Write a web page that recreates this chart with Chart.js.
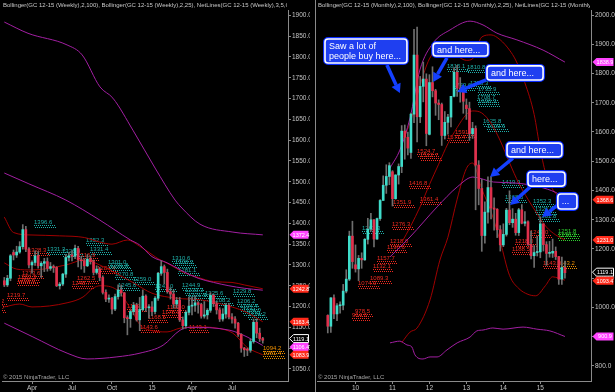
<!DOCTYPE html>
<html>
<head>
<meta charset="utf-8">
<script src="https://cdn.jsdelivr.net/npm/chart.js@4.4.0/dist/chart.umd.min.js"></script>
<style>
  html, body { margin: 0; padding: 0; background: #000; }
  #wrap { position: relative; width: 615px; height: 392px; background: #000; overflow: hidden; }
  #left { position: absolute; left: 0; top: 0; }
  #right { position: absolute; left: 310px; top: 0; }
</style>
</head>
<body>
<div id="wrap">
  <canvas id="left" width="310" height="392"></canvas>
  <canvas id="right" width="305" height="392"></canvas>
</div>
<script>
// ---- weekly GC 12-15, bar index 0 = week ending 2 Jan 2015 ----
const weekFirst = -48;
const weekOpen  = [1262,1252,1268,1330,1324,1331,1344,1385,1338,1300,1306,1322,1298,1304,1308,1292,1296,1294,1250,1254,1278,1318,1324,1321,1340,1312,1310,1298,1314,1308,1282,1290,1270,1234,1218,1220,1194,1224,1240,1233,1173,1171,1188,1203,1168,1193,1225,1197,1199,1188,1220,1280,1296,1282,1236,1230,1206,1215,1168,1154,1186,1201,1203,1209,1205,1177,1180,1191,1227,1207,1192,1170,1182,1203,1175,1170,1160,1133,1100,1096,1095,1116,1162,1136,1123];
const weekHigh  = [1270,1275,1325,1336,1345,1356,1397,1393,1342,1310,1334,1332,1308,1316,1317,1306,1300,1296,1258,1280,1325,1330,1334,1348,1345,1320,1315,1325,1322,1312,1298,1294,1274,1240,1228,1222,1230,1252,1252,1234,1178,1192,1210,1208,1222,1240,1228,1205,1212,1224,1282,1310,1300,1290,1245,1240,1222,1222,1175,1190,1222,1223,1225,1212,1208,1212,1195,1233,1230,1212,1197,1195,1207,1208,1183,1176,1162,1135,1102,1100,1122,1170,1170,1148,1126];
const weekLow   = [1248,1248,1262,1312,1318,1328,1338,1332,1293,1280,1299,1292,1270,1284,1285,1287,1282,1248,1242,1250,1270,1310,1310,1315,1295,1290,1282,1296,1302,1276,1278,1262,1230,1212,1210,1182,1190,1218,1225,1161,1132,1150,1180,1165,1142,1190,1188,1172,1178,1182,1215,1275,1255,1232,1218,1196,1196,1164,1146,1148,1180,1180,1188,1184,1172,1172,1170,1186,1200,1182,1164,1165,1172,1170,1160,1148,1128,1090,1080,1082,1090,1112,1125,1116,1112];
const weekClose = [1252,1268,1322,1324,1331,1344,1385,1338,1300,1306,1322,1298,1304,1308,1292,1296,1294,1250,1254,1278,1318,1322,1321,1340,1312,1310,1298,1314,1308,1282,1290,1270,1234,1218,1220,1194,1224,1240,1233,1173,1171,1188,1203,1168,1193,1225,1197,1199,1188,1220,1280,1296,1282,1236,1230,1206,1215,1168,1154,1186,1201,1203,1209,1205,1177,1180,1191,1227,1207,1192,1170,1182,1203,1175,1170,1160,1133,1100,1096,1095,1116,1162,1136,1123,1119];
const weekTickPos = [-39, -26, -13, 0, 13, 26];
const weekTickLabels = ['Apr', 'Jul', 'Oct', '15', 'Apr', 'Jul'];
const weekYTicks = [1050,1100,1150,1200,1250,1300,1350,1400,1450,1500,1550,1600,1650,1700,1750,1800,1850,1900];

// weekly Bollinger(2,100) and Bollinger(2,25)
const wkUp100Pos  = [-48,-40.3,-27.6,-22.7,-16.9,-12.7,-6.2,1,7.5,9.7,15.6,26.3,36];
const wkUp100     = [1884,1857,1829,1805,1728,1701,1624,1533,1456,1437,1398,1379,1372.4];
const wkMid100Pos = [-48,-40,-28,-17,-7,-4,0,5,10,15,20,25,30,36];
const wkMid100    = [1521,1495,1456,1408,1360,1348,1320,1305,1285,1268,1258,1250,1244,1239.4];
const wkLo100Pos  = [-48,-38.7,-27.6,-21.1,-11.4,-3.9,3.6,9.1,12.3,25.3,30.9,36];
const wkLo100     = [1160,1127,1088,1074,1079,1088,1107,1143,1150,1143,1127,1106.4];
const wkUp25Pos   = [-48,-45,-39,-30,-22,-17,-13,-8,-4,0,2,6,10,15,20,26,30,36];
const wkUp25      = [1415,1378,1372,1370,1366,1355,1350,1360,1345,1325,1315,1300,1283,1270,1260,1258,1252,1242.8];
const wkMid25Pos  = [-48,-44,-39,-28,-22,-17,-13,-6,0,8,16,26,31,36];
const wkMid25     = [1305,1290,1288,1300,1312,1300,1285,1257,1232,1220,1216,1199,1185,1163.4];
const wkLo25Pos   = [-48,-43,-39,-27.6,-22.4,-19.2,-16.9,-11.4,-6.2,-3.9,-0.6,4.9,9.1,15.6,21.1,26.3,30.9,36];
const wkLo25      = [1199,1206,1199,1209,1223,1244,1250,1240,1185,1156,1143,1139,1148,1151,1148,1136,1102,1083.9];

// weekly net line labels: bar position, price, colour key
const wkNetPos = [-38.4,-40.3,-34.1,-42.2,-43.5,-43.9,-47.1,-21.4,-20.1,-24.4,-29.3,-24.4,-26,-17.9,-14.3,-13.6,-12,-11,-6.2,-8.1,-3.9,6.5,7.5,8.5,1,4.9,-1.3,3.3,9.7,10.7,11.7,17.2,19.5,26.3,27.6,28.6,29.6,31.2,12,36.1,36.1,-54,-54];
const wkNetVal = [1396.6,1328.3,1331.3,1273.6,1263.3,1255.5,1219.7,1352.3,1331.4,1316.9,1326.9,1262.5,1248.7,1284.4,1301.0,1291.8,1270.8,1245.0,1259.0,1193.1,1143.6,1310.6,1300.2,1281.1,1241.0,1192.0,1168.5,1178.9,1244.9,1233.3,1221.5,1225.6,1208.2,1229.8,1206.2,1194.4,1184.0,1174.2,1143.1,1094.2,1081.4,1206.2,1192.0];
const wkNetCol = ['t','r','t','r','r','r','r','t','t','r','t','r','r','r','t','t','t','t','t','r','r','t','t','t','t','r','r','r','t','t','t','t','t','t','t','t','t','t','r','o','o','r','r'];

const wkTagVal = [1372.4, 1242.8, 1163.4, 1119.1, 1106.4, 1083.9];
const wkTagCol = ['m', 'r', 'r', 'k', 'm', 'r'];

// ---- monthly GC 12-15, bar index 0 = Jan 2010 ----
const monthFirst = -9;
const monthOpen  = [973,936,1033,978,1006,1008,1056,1097,1244, 1146,1132,1168,1163,1233,1268,1300,1234,1304,1366,1418,1448, 1464,1372,1453,1482,1603,1582,1530,1661,1863,1652,1756,1781, 1592,1769,1741,1699,1694,1588,1633,1651,1722,1804,1750,1745, 1692,1680,1594,1612,1487,1407,1246,1326,1410,1340,1336,1266, 1214,1250,1333,1290,1302,1256,1334,1288,1293,1216,1177,1188, 1190,1286,1215,1185,1186,1192,1174,1097,1137];
const monthHigh  = [975,1034,1043,1013,1019,1079,1129,1261,1295, 1214,1178,1187,1236,1305,1322,1301,1306,1369,1450,1488,1495, 1468,1454,1491,1622,1624,1600,1665,1951,1959,1790,1839,1799, 1796,1823,1746,1710,1699,1670,1660,1722,1820,1828,1786,1754, 1713,1702,1633,1621,1502,1438,1361,1447,1448,1375,1338,1280, 1286,1339,1399,1338,1322,1339,1352,1328,1296,1261,1212,1244, 1310,1286,1225,1226,1234,1207,1175,1172,1159];
const monthLow   = [913,915,962,955,981,992,1050,1092,1134, 1121,1092,1134,1161,1217,1261,1207,1233,1298,1366,1390,1420, 1347,1370,1422,1461,1507,1522,1510,1632,1566,1632,1703,1553, 1590,1720,1657,1642,1554,1576,1593,1617,1720,1722,1702,1664, 1643,1571,1578,1334,1351,1192,1220,1288,1303,1264,1239,1193, 1208,1244,1283,1274,1247,1246,1286,1279,1212,1166,1137,1176, 1170,1193,1144,1172,1171,1164,1079,1079,1100];
const monthClose = [936,1033,978,1006,1008,1056,1097,1244,1157, 1132,1168,1163,1233,1268,1300,1234,1304,1366,1418,1448,1485, 1372,1453,1482,1603,1582,1545,1661,1863,1652,1756,1781,1595, 1769,1741,1699,1694,1588,1633,1651,1722,1804,1750,1745,1705, 1680,1594,1612,1487,1407,1246,1326,1410,1340,1336,1266,1214, 1250,1333,1290,1302,1256,1334,1288,1293,1216,1177,1188,1190, 1286,1215,1185,1186,1192,1174,1097,1137,1119];
const monthTickPos = [0, 12, 24, 36, 48, 60];
const monthTickLabels = ['10', '11', '12', '13', '14', '15'];
const monthYTicks = [800,900,1000,1100,1200,1300,1400,1500,1600,1700,1800,1900,2000];

const moUp100Pos  = [11.2,14.4,17.7,20.9,25.2,30.7,37.2,41.4,45.9,52.4,60.9,68];
const moUp100     = [1477,1538,1648,1812,1904,1949,1979,1966,1938,1915,1880,1838.9];
const moMid100Pos = [11.2,17.7,26.5,33,38.1,44.8,51.3,60.9,66.4,68];
const moMid100    = [1173,1241,1344,1412,1446,1429,1426,1409,1385,1369.9];
const moLo100Pos  = [11.2,14.4,16.7,18.3,19.3,21.9,24.2,26.5,29.7,33,37.2,39.4,41.4,44.6,47.9,54.4,58.9,63.1,68];
const moLo100     = [879,885,872,865,838,824,831,831,855,879,899,920,923,930,926,933,926,920,900.9];
const moUp25Pos   = [15,18,21,24,27,30,33,36,38,41,44,47,50,52,55,58,60,62,65,68];
const moUp25      = [1564,1640,1760,1850,1880,1880,1860,1845,1850,1925,1932,1915,1880,1846,1768,1660,1540,1450,1390,1368.6];
const moMid25Pos  = [15,18,21,24,27,30,33,36,38,41,44,47,50,53,56,59,62,65,68];
const moMid25     = [1222,1280,1345,1420,1490,1560,1615,1660,1672,1665,1630,1570,1495,1425,1370,1320,1275,1248,1231];
const moLo25Pos   = [15,17.7,20,24.2,27.4,30,33,36,38,41,44,47,50,53,56,58.5,61.7,64,66,68];
const moLo25      = [880,916,930,1026,1162,1240,1370,1475,1494,1405,1328,1225,1110,1065,1045,1040,1075,1105,1100,1093.4];

const moNetPos = [29.7,36.2,37.2,31.7,39.8,39.4,39.8,41.4,42.7,32.3,29.7,20.0,20.9,17.4,20.9,12.2,11.9,11.2,10.2,7.0,5.7,4.7,0.8,-0.2,-1.1,47.6,48.5,57.6,58.3,59.3,56.7,51.8,50.8,60.9,65.4,65.7,65.7,2.1];
const moNetVal = [1815.1,1810.8,1758.3,1749.6,1735.9,1708.7,1696.3,1625.8,1609.6,1591.4,1571.4,1524.7,1512.7,1416.8,1361.4,1351.9,1276.3,1218.0,1196.6,1157.7,1132.1,1089.3,1074.9,978.5,964.6,1419.9,1368.5,1352.3,1326.3,1301.8,1247.0,1218.0,1188.5,1143.0,1143.2,1251.8,1236.2,1262.3];
const moNetCol = ['t','t','t','t','t','t','t','t','t','r','r','r','r','r','r','r','r','r','r','r','r','r','r','r','r','t','t','t','t','t','r','r','r','r','o','g','g','t'];

const moTagVal = [1838.9, 1368.6, 1231.0, 1119.1, 1093.4, 900.9];
const moTagCol = ['m', 'r', 'r', 'k', 'r', 'm'];

// callouts on the monthly chart (bar positions / prices)
const noteText   = [['Saw a lot of', 'people buy here...'], ['and here...'], ['and here...'], ['and here...'], ['here...'], ['...']];
const noteLeft   = [-9.9, 25.2, 42.7, 49.2, 56.0, 65.7];
const noteRight  = [16.7, 43.0, 60.9, 67.0, 68.0, 71.9];
const noteTop    = [1918, 1904, 1826, 1562, 1463, 1388];
const noteBottom = [1836, 1860, 1778, 1515, 1415, 1337];
const arrowFromPos = [10.2, 29.7, 42.4, 51.1, 56.7, 66.1];
const arrowFromVal = [1829, 1853, 1778, 1511, 1412, 1354];
const arrowToPos   = [14.4, 25.2, 33.0, 43.7, 50.2, 60.6];
const arrowToVal   = [1733, 1771, 1737, 1446, 1350, 1309];

const FONT = '"Liberation Sans", Arial, sans-serif';
Chart.defaults.font.family = FONT;
const netColors = { t: '#1fb0aa', r: '#f02a20', o: '#f09000', g: '#2fd22f' };
const tagColors = { m: '#ff44ff', r: '#ff2a1a', k: '#000000' };
const PURPLE = '#a21fa2', DARKRED = '#a00000';

function candleSets(first, open, high, low, close) {
  return [
    { type: 'bar', data: low.map((l, i) => ({ x: first + i, y: [l, high[i]] })),
      backgroundColor: '#6e6e6e', barThickness: 1, grouped: false, order: 1 },
    { type: 'bar', data: open.map((o, i) => ({ x: first + i, y: [o, close[i]] })),
      backgroundColor: open.map((o, i) => close[i] >= o ? '#3fdcca' : '#e0304c'),
      barThickness: 2, minBarLength: 1, grouped: false, order: 0 }
  ];
}

function band(pos, val, color) {
  return { type: 'line', data: pos.map((p, i) => ({ x: p, y: val[i] })), borderColor: color,
           borderWidth: 1, pointRadius: 0, cubicInterpolationMode: 'monotone', fill: false, order: 2 };
}

// spread overlapping axis tags apart, keeping each cluster centred on its values
function spreadTags(tags, gap) {
  tags.sort((p, q) => p.y0 - q.y0);
  let start = 0;
  for (let i = 0; i <= tags.length; i++) {
    if (i === tags.length || (i > start && tags[i].y0 - tags[i - 1].y0 >= gap)) {
      const n = i - start;
      const mid = tags.slice(start, i).reduce((s, t) => s + t.y0, 0) / n;
      for (let k = 0; k < n; k++) tags[start + k].y = mid + (k - (n - 1) / 2) * gap;
      start = i;
    }
  }
  return tags;
}

const decor = {
  id: 'decor',
  beforeDatasetsDraw(chart, args, o) {
    const { ctx, chartArea: a } = chart, x = chart.scales.x, y = chart.scales.y;
    ctx.save();
    ctx.beginPath(); ctx.rect(a.left, a.top, a.width, a.height); ctx.clip();
    ctx.font = '6px ' + FONT;
    ctx.textAlign = 'left'; ctx.textBaseline = 'alphabetic';
    o.netPos.forEach((p, i) => {
      const v = o.netVal[i], px = Math.round(x.getPixelForValue(p)), py = Math.round(y.getPixelForValue(v));
      const s = v.toFixed(1), w = ctx.measureText(s).width;
      ctx.fillStyle = netColors[o.netCol[i]];
      ctx.fillText(s, px, py - 1.5);
      for (let k = 0; k < w + 2; k += 2) { ctx.fillRect(px + k, py, 1, 1); ctx.fillRect(px + k + 1, py + 2, 1, 1); }
    });
    ctx.restore();
  },
  afterDatasetsDraw(chart, args, o) {
    const n = o.notes;
    if (!n) return;
    const { ctx } = chart, x = chart.scales.x, y = chart.scales.y;
    ctx.save();
    n.text.forEach((lines, i) => {
      const ax = x.getPixelForValue(n.fromPos[i]), ay = y.getPixelForValue(n.fromVal[i]);
      const bx = x.getPixelForValue(n.toPos[i]), by = y.getPixelForValue(n.toVal[i]);
      const ang = Math.atan2(by - ay, bx - ax), L = 9;
      const ex = bx - L * Math.cos(ang), ey = by - L * Math.sin(ang);
      ctx.strokeStyle = '#1440ff'; ctx.lineWidth = 3.5;
      ctx.beginPath(); ctx.moveTo(ax, ay); ctx.lineTo(ex, ey); ctx.stroke();
      ctx.fillStyle = '#1440ff';
      ctx.beginPath(); ctx.moveTo(bx, by);
      ctx.lineTo(ex + 5 * Math.sin(ang), ey - 5 * Math.cos(ang));
      ctx.lineTo(ex - 5 * Math.sin(ang), ey + 5 * Math.cos(ang));
      ctx.closePath(); ctx.fill();
    });
    n.text.forEach((lines, i) => {
      const l = x.getPixelForValue(n.left[i]), r = x.getPixelForValue(n.right[i]);
      const t = y.getPixelForValue(n.top[i]), b = y.getPixelForValue(n.bottom[i]);
      ctx.beginPath(); ctx.roundRect(l, t, r - l, b - t, 3);
      ctx.strokeStyle = '#0a2cff'; ctx.lineWidth = 4; ctx.stroke();
      ctx.fillStyle = '#1f3ff0'; ctx.fill();
      ctx.strokeStyle = '#ffffff'; ctx.lineWidth = 1.6; ctx.stroke();
      ctx.fillStyle = '#ffffff'; ctx.font = '9px ' + FONT;
      ctx.textAlign = 'left'; ctx.textBaseline = 'middle';
      const lh = 10, y0 = (t + b) / 2 - (lines.length - 1) * lh / 2;
      lines.forEach((s, k) => ctx.fillText(s, l + 4, y0 + k * lh + 0.5));
    });
    ctx.restore();
  },
  afterDraw(chart, args, o) {
    const { ctx, chartArea: a } = chart, y = chart.scales.y;
    ctx.save();
    if (o.leftBorder) {
      ctx.strokeStyle = '#8a8a8a'; ctx.lineWidth = 1;
      ctx.beginPath(); ctx.moveTo(a.left - 1.5, 0); ctx.lineTo(a.left - 1.5, chart.height); ctx.stroke();
    }
    // title
    ctx.save();
    ctx.beginPath(); ctx.rect(0, 0, a.right - 1, 10); ctx.clip();
    ctx.fillStyle = '#c8c8c8'; ctx.font = '6px ' + FONT;
    ctx.textAlign = 'left'; ctx.textBaseline = 'middle';
    ctx.fillText(o.title, a.left + 1, 5);
    ctx.restore();
    // copyright
    ctx.fillStyle = '#a8a8a8'; ctx.font = '6px ' + FONT;
    ctx.textAlign = 'left'; ctx.textBaseline = 'middle';
    ctx.fillText('\u00A9 2015 NinjaTrader, LLC', a.left + 1, a.bottom - 4);
    // value tags on the price axis
    const tags = spreadTags(o.tagVal.map((v, i) => ({ v, c: o.tagCol[i], y0: y.getPixelForValue(v) })), 8.5);
    tags.forEach(t => {
      const x0 = a.right + 1.5, x1 = x0 + 4, x2 = chart.width - 1.5, h = 4;
      ctx.beginPath(); ctx.moveTo(x0, t.y); ctx.lineTo(x1, t.y - h); ctx.lineTo(x2, t.y - h);
      ctx.lineTo(x2, t.y + h); ctx.lineTo(x1, t.y + h); ctx.closePath();
      ctx.fillStyle = tagColors[t.c]; ctx.fill();
      if (t.c === 'k') { ctx.strokeStyle = '#ffffff'; ctx.lineWidth = 1; ctx.stroke(); }
      ctx.fillStyle = '#ffffff'; ctx.font = '5.5px ' + FONT;
      ctx.textAlign = 'center'; ctx.textBaseline = 'middle';
      ctx.fillText(t.v.toFixed(1), (x1 + x2) / 2, t.y + 0.5);
    });
    ctx.restore();
  }
};

function makeChart(id, cfg) {
  return new Chart(document.getElementById(id), {
    type: 'bar',
    data: { datasets: cfg.datasets },
    options: {
      responsive: false, animation: false, events: [],
      layout: { padding: { left: cfg.padLeft, top: 10, right: 0, bottom: 0 } },
      plugins: { legend: { display: false }, tooltip: { enabled: false }, decor: cfg.decor },
      scales: {
        x: {
          type: 'linear', min: cfg.xMin, max: cfg.xMax, offset: false,
          grid: { display: true, drawOnChartArea: false, tickLength: 3, color: '#8a8a8a', offset: false },
          border: { display: true, color: '#8a8a8a' },
          afterBuildTicks: s => { s.ticks = cfg.xTicks.map(v => ({ value: v })); },
          ticks: { autoSkip: false, maxRotation: 0, padding: 0, color: '#c4c4c4', font: { size: 6.5 },
                   callback: (v, i) => cfg.xLabels[i] },
          afterFit: s => { s.height = 11; }
        },
        y: {
          type: 'linear', position: 'right', min: cfg.yMin, max: cfg.yMax, beginAtZero: false,
          grid: { display: true, drawOnChartArea: false, tickLength: 3, color: '#8a8a8a' },
          border: { display: true, color: '#8a8a8a' },
          afterBuildTicks: s => { s.ticks = cfg.yTicks.map(v => ({ value: v })); },
          ticks: { padding: 1, color: '#c4c4c4', font: { size: 6.5 }, callback: v => v.toFixed(1) },
          afterFit: s => { s.width = cfg.yWidth; }
        }
      }
    },
    plugins: [decor]
  });
}

makeChart('left', {
  padLeft: 2, yWidth: 22, xMin: -48.75, xMax: 44.2, yMin: 1021, yMax: 1913,
  xTicks: weekTickPos, xLabels: weekTickLabels, yTicks: weekYTicks,
  datasets: [
    band(wkUp100Pos, wkUp100, PURPLE), band(wkMid100Pos, wkMid100, PURPLE), band(wkLo100Pos, wkLo100, PURPLE),
    band(wkUp25Pos, wkUp25, DARKRED), band(wkMid25Pos, wkMid25, DARKRED), band(wkLo25Pos, wkLo25, DARKRED),
    ...candleSets(weekFirst, weekOpen, weekHigh, weekLow, weekClose)
  ],
  decor: {
    title: 'Bollinger(GC 12-15 (Weekly),2,100), Bollinger(GC 12-15 (Weekly),2,25), NetLines(GC 12-15 (Weekly),3,5,Color [',
    netPos: wkNetPos, netVal: wkNetVal, netCol: wkNetCol, tagVal: wkTagVal, tagCol: wkTagCol
  }
});

makeChart('right', {
  padLeft: 7, yWidth: 24, xMin: -12.5, xMax: 76.46, yMin: 748.7, yMax: 2017.1,
  xTicks: monthTickPos, xLabels: monthTickLabels, yTicks: monthYTicks,
  datasets: [
    band(moUp100Pos, moUp100, PURPLE), band(moMid100Pos, moMid100, PURPLE), band(moLo100Pos, moLo100, PURPLE),
    band(moUp25Pos, moUp25, DARKRED), band(moMid25Pos, moMid25, DARKRED), band(moLo25Pos, moLo25, DARKRED),
    ...candleSets(monthFirst, monthOpen, monthHigh, monthLow, monthClose)
  ],
  decor: {
    title: 'Bollinger(GC 12-15 (Monthly),2,100), Bollinger(GC 12-15 (Monthly),2,25), NetLines(GC 12-15 (Monthly),3,',
    leftBorder: true,
    netPos: moNetPos, netVal: moNetVal, netCol: moNetCol, tagVal: moTagVal, tagCol: moTagCol,
    notes: { text: noteText, left: noteLeft, right: noteRight, top: noteTop, bottom: noteBottom,
             fromPos: arrowFromPos, fromVal: arrowFromVal, toPos: arrowToPos, toVal: arrowToVal }
  }
});
</script>
</body>
</html>
